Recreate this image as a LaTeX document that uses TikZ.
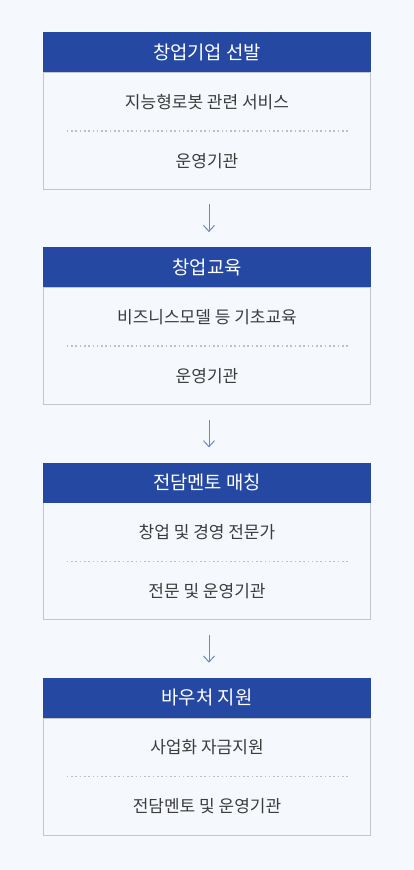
\documentclass[tikz,border=0pt]{standalone}
\usepackage{fontspec}
\newfontfamily\krfont{Noto Sans CJK KR}
\usetikzlibrary{arrows.meta}

\definecolor{pagebg}{HTML}{F5F9FD}
\definecolor{headblue}{HTML}{2549A3}
\definecolor{framegray}{HTML}{C3C6CB}
\definecolor{dotgray}{HTML}{BDBFC3}
\definecolor{txtgray}{HTML}{3C3C3C}
\definecolor{arrblue}{HTML}{6F87C8}

\begin{document}
\begin{tikzpicture}[x=1pt, y=-1pt,
  head/.style={rectangle, fill=headblue, minimum width=327.4pt, minimum height=40pt, inner sep=0pt, text=white, font=\krfont\fontsize{18.8}{22}\selectfont},
  body/.style={rectangle, draw=framegray, fill=pagebg, line width=0.8pt, minimum width=327.4pt, minimum height=117pt, inner sep=0pt},
  item/.style={text=txtgray, inner sep=0pt, font=\krfont\fontsize{17}{20}\selectfont},
  sep/.style={dotgray, line width=1.6pt, dash pattern=on 1.6pt off 2.7pt},
  flow/.style={arrblue, line width=1pt, -{Straight Barb[length=6pt, width=11pt]}, shorten <=15pt, shorten >=15pt}]
\fill [pagebg] (0,0) rectangle (414,870);

% box 1
\node [body] (b1) at (207,130.5) {};
\node [head] (h1) at (207,52) {창업기업 선발};
\node [item] (t1a) at (207,101.7) {지능형로봇 관련 서비스};
\node [item] (t1b) at (207,160.7) {운영기관};
\coordinate (s1a) at (66.7,130.7);
\coordinate (s1b) at (348.3,130.7);
\draw [sep] (s1a) -- (s1b);

% box 2
\node [body] (b2) at (207,345.8) {};
\node [head] (h2) at (207,267.3) {창업교육};
\node [item] (t2a) at (207,317) {비즈니스모델 등 기초교육};
\node [item] (t2b) at (207,376) {운영기관};
\coordinate (s2a) at (66.7,346);
\coordinate (s2b) at (348.3,346);
\draw [sep] (s2a) -- (s2b);

% box 3
\node [body] (b3) at (207,561.1) {};
\node [head] (h3) at (207,482.6) {전담멘토 매칭};
\node [item] (t3a) at (207,532.3) {창업 및 경영 전문가};
\node [item] (t3b) at (207,591.3) {전문 및 운영기관};
\coordinate (s3a) at (66.7,561.3);
\coordinate (s3b) at (348.3,561.3);
\draw [sep] (s3a) -- (s3b);

% box 4
\node [body] (b4) at (207,776.4) {};
\node [head] (h4) at (207,697.9) {바우처 지원};
\node [item] (t4a) at (207,747.6) {사업화 자금지원};
\node [item] (t4b) at (207,806.6) {전담멘토 및 운영기관};
\coordinate (s4a) at (66.7,776.6);
\coordinate (s4b) at (348.3,776.6);
\draw [sep] (s4a) -- (s4b);

% arrows
\draw [flow] ([xshift=2pt]b1.south) -- ([xshift=2pt]h2.north);
\draw [flow] ([xshift=2pt]b2.south) -- ([xshift=2pt]h3.north);
\draw [flow] ([xshift=2pt]b3.south) -- ([xshift=2pt]h4.north);
\end{tikzpicture}
\end{document}
